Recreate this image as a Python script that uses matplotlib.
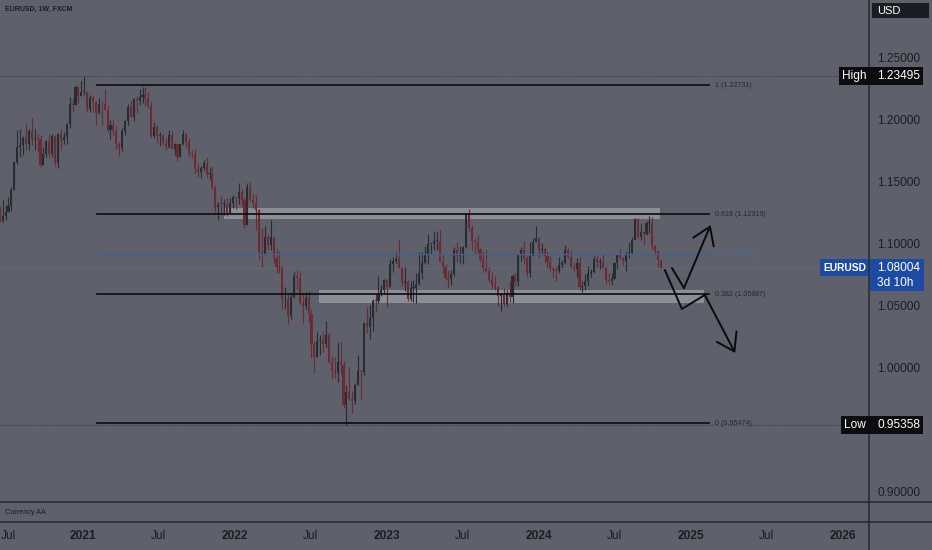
import matplotlib
matplotlib.use("Agg")
import matplotlib.pyplot as plt
import matplotlib.dates as mdates
from matplotlib.patches import Rectangle
from matplotlib.transforms import IdentityTransform, ScaledTranslation
import numpy as np
import pandas as pd

plt.rcParams['font.family'] = ['Liberation Sans', 'DejaVu Sans']

# ---------------- data (EURUSD weekly) ----------------
start_week = '2020-06-01'
first_open = 1.1135
closes = [
    # 2020
    1.1290, 1.1255, 1.1177, 1.1220, 1.1248, 1.1300, 1.1427, 1.1656, 1.1778, 1.1787,
    1.1843, 1.1795, 1.1903, 1.1838, 1.1845, 1.1838, 1.1632, 1.1715, 1.1826, 1.1718,
    1.1860, 1.1646, 1.1876, 1.1834, 1.1857, 1.1962, 1.2122, 1.2112, 1.2255, 1.2186, 1.2215,
    # 2021
    1.2220, 1.2080, 1.2170, 1.2136, 1.2047, 1.2119, 1.2118, 1.2075, 1.1915, 1.1952,
    1.1903, 1.1795, 1.1763, 1.1900, 1.1983, 1.2097, 1.2020, 1.2164, 1.2142, 1.2180,
    1.2193, 1.2168, 1.2107, 1.1865, 1.1936, 1.1864, 1.1875, 1.1806, 1.1771, 1.1870,
    1.1762, 1.1795, 1.1697, 1.1795, 1.1880, 1.1813, 1.1726, 1.1719, 1.1596, 1.1574,
    1.1601, 1.1645, 1.1559, 1.1567, 1.1445, 1.1288, 1.1317, 1.1316, 1.1317, 1.1239,
    1.1322, 1.1370,
    # 2022
    1.1360, 1.1413, 1.1344, 1.1145, 1.1450, 1.1348, 1.1322, 1.1270, 1.0930, 1.0912,
    1.1050, 1.0983, 1.1045, 1.0877, 1.0810, 1.0797, 1.0545, 1.0552, 1.0413, 1.0562,
    1.0733, 1.0720, 1.0518, 1.0495, 1.0554, 1.0430, 1.0185, 1.0083, 1.0213, 1.0220,
    1.0182, 1.0257, 1.0038, 0.9965, 0.9953, 1.0044, 1.0015, 0.9690, 0.9802, 0.9738,
    0.9722, 0.9857, 0.9965, 0.9960, 1.0354, 1.0325, 1.0398, 1.0535, 1.0530, 1.0586,
    1.0620, 1.0705,
    # 2023
    1.0645, 1.0830, 1.0856, 1.0870, 1.0795, 1.0680, 1.0695, 1.0546, 1.0635, 1.0640,
    1.0670, 1.0760, 1.0840, 1.0905, 1.0990, 1.0990, 1.1020, 1.1020, 1.0850, 1.0805,
    1.0720, 1.0710, 1.0750, 1.0940, 1.0895, 1.0910, 1.0970, 1.1230, 1.1125, 1.1015,
    1.1010, 1.0950, 1.0870, 1.0795, 1.0775, 1.0700, 1.0660, 1.0645, 1.0573, 1.0587,
    1.0510, 1.0595, 1.0565, 1.0730, 1.0685, 1.0915, 1.0940, 1.0880, 1.0760, 1.0895,
    1.1010, 1.1040,
    # 2024
    1.0940, 1.0950, 1.0895, 1.0850, 1.0790, 1.0785, 1.0775, 1.0820, 1.0838, 1.0940,
    1.0890, 1.0808, 1.0790, 1.0837, 1.0643, 1.0655, 1.0695, 1.0760, 1.0770, 1.0870,
    1.0847, 1.0850, 1.0800, 1.0700, 1.0693, 1.0713, 1.0840, 1.0908, 1.0880, 1.0857,
    1.0910, 1.0918, 1.1027, 1.1192, 1.1050, 1.1085, 1.1075, 1.1163, 1.1163, 1.0975,
    1.0936, 1.0866, 1.0800,
]
highs = [
    # 2020
    1.1384, 1.1422, 1.1296, 1.1349, 1.1303, 1.1371, 1.1452, 1.1660, 1.1908, 1.1916,
    1.1866, 1.1966, 1.1922, 1.2011, 1.1917, 1.1882, 1.1872, 1.1772, 1.1831, 1.1880,
    1.1880, 1.1870, 1.1891, 1.1920, 1.1892, 1.1965, 1.2177, 1.2166, 1.2273, 1.2250, 1.2310,
    # 2021
    1.2350, 1.2223, 1.2190, 1.2184, 1.2148, 1.2170, 1.2146, 1.2243, 1.2114, 1.1990,
    1.1990, 1.1945, 1.1816, 1.1927, 1.1994, 1.2117, 1.2150, 1.2172, 1.2182, 1.2245,
    1.2262, 1.2255, 1.2218, 1.2145, 1.1975, 1.1955, 1.1895, 1.1880, 1.1850, 1.1909,
    1.1900, 1.1803, 1.1804, 1.1800, 1.1909, 1.1885, 1.1846, 1.1752, 1.1755, 1.1641,
    1.1624, 1.1669, 1.1692, 1.1616, 1.1610, 1.1464, 1.1330, 1.1383, 1.1355, 1.1360,
    1.1361, 1.1386,
    # 2022
    1.1375, 1.1482, 1.1436, 1.1370, 1.1483, 1.1495, 1.1395, 1.1390, 1.1272, 1.1121,
    1.1137, 1.1070, 1.1185, 1.1050, 1.0955, 1.0936, 1.0812, 1.0642, 1.0590, 1.0600,
    1.0765, 1.0787, 1.0774, 1.0601, 1.0605, 1.0615, 1.0464, 1.0210, 1.0279, 1.0258,
    1.0294, 1.0368, 1.0275, 1.0090, 1.0079, 1.0198, 1.0198, 1.0051, 0.9855, 0.9999,
    0.9808, 0.9874, 1.0094, 0.9976, 1.0363, 1.0481, 1.0497, 1.0545, 1.0595, 1.0737,
    1.0658, 1.0713,
    # 2023
    1.0713, 1.0874, 1.0887, 1.0930, 1.1033, 1.0800, 1.0804, 1.0700, 1.0691, 1.0700,
    1.0760, 1.0930, 1.0925, 1.0973, 1.1075, 1.0990, 1.1095, 1.1092, 1.1107, 1.0905,
    1.0830, 1.0780, 1.0786, 1.0970, 1.1012, 1.0976, 1.0975, 1.1245, 1.1276, 1.1149,
    1.1044, 1.1065, 1.0960, 1.0930, 1.0945, 1.0810, 1.0769, 1.0737, 1.0653, 1.0598,
    1.0640, 1.0620, 1.0695, 1.0750, 1.0755, 1.0914, 1.0964, 1.1017, 1.0894, 1.1009,
    1.1040, 1.1140,
    # 2024
    1.1046, 1.0998, 1.0965, 1.0932, 1.0897, 1.0810, 1.0805, 1.0888, 1.0865, 1.0981,
    1.0963, 1.0942, 1.0842, 1.0876, 1.0885, 1.0690, 1.0752, 1.0812, 1.0790, 1.0895,
    1.0895, 1.0880, 1.0915, 1.0810, 1.0761, 1.0760, 1.0845, 1.0910, 1.0948, 1.0890,
    1.0925, 1.1008, 1.1048, 1.1201, 1.1202, 1.1155, 1.1092, 1.1180, 1.1214, 1.1210,
    1.0985, 1.0945, 1.0870,
]
lows = [
    # 2020
    1.1098, 1.1243, 1.1168, 1.1168, 1.1186, 1.1253, 1.1255, 1.1427, 1.1640, 1.1695,
    1.1711, 1.1754, 1.1753, 1.1790, 1.1752, 1.1737, 1.1612, 1.1627, 1.1690, 1.1690,
    1.1690, 1.1622, 1.1603, 1.1746, 1.1800, 1.1801, 1.1926, 1.2059, 1.2115, 1.2130, 1.2186,
    # 2021
    1.2193, 1.2055, 1.2054, 1.2056, 1.1952, 1.2040, 1.1953, 1.2070, 1.1893, 1.1836,
    1.1874, 1.1762, 1.1704, 1.1738, 1.1870, 1.1950, 1.2018, 1.1986, 1.2052, 1.2112,
    1.2133, 1.2105, 1.2092, 1.1847, 1.1848, 1.1807, 1.1783, 1.1794, 1.1752, 1.1770,
    1.1759, 1.1706, 1.1664, 1.1694, 1.1790, 1.1772, 1.1700, 1.1684, 1.1563, 1.1529,
    1.1524, 1.1586, 1.1535, 1.1513, 1.1432, 1.1249, 1.1186, 1.1235, 1.1228, 1.1221,
    1.1266, 1.1279,
    # 2022
    1.1272, 1.1313, 1.1302, 1.1121, 1.1155, 1.1340, 1.1280, 1.1106, 1.0863, 1.0806,
    1.0900, 1.0945, 1.0945, 1.0836, 1.0757, 1.0760, 1.0471, 1.0470, 1.0349, 1.0390,
    1.0560, 1.0627, 1.0506, 1.0358, 1.0470, 1.0366, 1.0072, 0.9952, 1.0079, 1.0097,
    1.0123, 1.0159, 1.0034, 0.9900, 0.9910, 0.9877, 0.9945, 0.9668, 0.9536, 0.9730,
    0.9632, 0.9705, 0.9855, 0.9730, 0.9936, 1.0271, 1.0223, 1.0289, 1.0443, 1.0518,
    1.0575, 1.0598,
    # 2023
    1.0483, 1.0668, 1.0767, 1.0835, 1.0797, 1.0655, 1.0613, 1.0533, 1.0533, 1.0524,
    1.0516, 1.0660, 1.0713, 1.0830, 1.0830, 1.0910, 1.0940, 1.0942, 1.0848, 1.0760,
    1.0700, 1.0635, 1.0665, 1.0730, 1.0844, 1.0835, 1.0833, 1.0960, 1.1093, 1.0943,
    1.0912, 1.0920, 1.0846, 1.0765, 1.0770, 1.0686, 1.0632, 1.0617, 1.0488, 1.0448,
    1.0495, 1.0495, 1.0522, 1.0516, 1.0657, 1.0657, 1.0852, 1.0827, 1.0723, 1.0724,
    1.0895, 1.1005,
    # 2024
    1.0877, 1.0910, 1.0845, 1.0795, 1.0777, 1.0722, 1.0695, 1.0760, 1.0795, 1.0830,
    1.0880, 1.0800, 1.0777, 1.0724, 1.0622, 1.0601, 1.0625, 1.0650, 1.0725, 1.0760,
    1.0805, 1.0788, 1.0795, 1.0668, 1.0670, 1.0665, 1.0710, 1.0790, 1.0875, 1.0825,
    1.0777, 1.0880, 1.0908, 1.1025, 1.1040, 1.1025, 1.0995, 1.1068, 1.1080, 1.0950,
    1.0905, 1.0810, 1.0795,
]

fib_levels = [1.0, 0.618, 0.5, 0.382, 0.0]
fib_prices = [1.22731, 1.12319, 1.09103, 1.05887, 0.95474]
fib_start, fib_end = '2021-02-03', '2025-02-14'

zone_upper = ('2021-12-05', '2024-10-18', 1.1194, 1.1282)
zone_lower = ('2022-07-21', '2025-02-01', 1.0516, 1.0621)

path_up_dates = ['2024-11-16', '2024-12-15', '2025-02-17']
path_up_prices = [1.0798, 1.0637, 1.1145]
path_dn_dates = ['2024-10-30', '2024-12-10', '2025-02-03', '2025-04-17']
path_dn_prices = [1.0782, 1.0468, 1.0581, 1.0113]

high_value, low_value, last_value = 1.23495, 0.95358, 1.08004
price_ticks = [0.90, 1.00, 1.05, 1.10, 1.15, 1.20, 1.25]
time_tick_dates = ['2020-07-01', '2021-01-01', '2021-07-01', '2022-01-01', '2022-07-01',
                   '2023-01-01', '2023-07-01', '2024-01-01', '2024-07-01', '2025-01-01',
                   '2025-07-01', '2026-01-01']
time_tick_labels = ['Jul', '2021', 'Jul', '2022', 'Jul', '2023', 'Jul', '2024', 'Jul',
                    '2025', 'Jul', '2026']

# ---------------- styling ----------------
BG = '#5e606b'
UP = '#262d30'
DOWN = '#6d2a33'
TXT = '#1c1d22'
W, H = 932, 550

fig = plt.figure(figsize=(W / 100, H / 100), dpi=100)
fig.patch.set_facecolor(BG)
ax = fig.add_axes([0, 48 / H, 869 / W, 502 / H])
ax.set_facecolor(BG)
for s in ax.spines.values():
    s.set_visible(False)

d2021 = mdates.date2num(pd.Timestamp('2021-01-01'))
ax.set_xlim(d2021 - 199.4, d2021 + 1888.5)
ax.set_ylim(0.89113, 1.29597)

# candles
c = np.array(closes)
hi = np.array(highs)
lo = np.array(lows)
o = np.concatenate([[first_open], c[:-1]])
hi = np.maximum(hi, np.maximum(o, c))
lo = np.minimum(lo, np.minimum(o, c))
dates = pd.date_range(start_week, periods=len(c), freq='W-MON')
x = mdates.date2num(dates)
cols = np.where(c >= o, UP, DOWN)
ax.vlines(x, lo, hi, colors=cols, lw=0.8, zorder=3)
body_bottom = np.minimum(o, c)
body_h = np.maximum(np.abs(c - o), 0.0007)
ax.bar(x, body_h, bottom=body_bottom, width=5.0, color=cols, lw=0, zorder=4)

# dotted high / low / last-price lines
ax.axhline(high_value, color='#3a3c44', lw=0.8, ls=(0, (1, 1.5)), zorder=2)
ax.axhline(low_value, color='#3a3c44', lw=0.8, ls=(0, (1, 1.5)), zorder=2)
ax.axhline(last_value, color='#70737e', lw=0.8, ls=(0, (1, 1.5)), zorder=1)

# zones
for z in (zone_upper, zone_lower):
    x0 = mdates.date2num(pd.Timestamp(z[0]))
    x1 = mdates.date2num(pd.Timestamp(z[1]))
    ax.add_patch(Rectangle((x0, z[2]), x1 - x0, z[3] - z[2], facecolor='#cdd0d6',
                           alpha=0.42, lw=0, zorder=2))

# fib lines
fx0 = mdates.date2num(pd.Timestamp(fib_start))
fx1 = mdates.date2num(pd.Timestamp(fib_end))
for lvl, p in zip(fib_levels, fib_prices):
    blue = lvl == 0.5
    ax.plot([fx0, fx1], [p, p], color='#44608f' if blue else '#0c0c0e',
            lw=1.0 if blue else 1.2, zorder=5)
    lab = f"{lvl:g} ({p:.5f})"
    ax.text(fx1 + 14, p, lab, fontsize=5.1, va='center', ha='left',
            color='#4f6793' if blue else '#26282e', zorder=6)

# arrows
def draw_path(dts, prs):
    xs = mdates.date2num(pd.to_datetime(dts))
    ax.plot(xs[:-1], prs[:-1], color='#0b0b0d', lw=1.4, zorder=6, solid_capstyle='round')
    ax.annotate('', xy=(xs[-1], prs[-1]), xytext=(xs[-2], prs[-2]),
                arrowprops=dict(arrowstyle='->,head_length=0.6,head_width=0.4',
                                color='#0b0b0d', lw=1.4, shrinkA=0, shrinkB=0,
                                mutation_scale=20), zorder=6)

draw_path(path_up_dates, path_up_prices)
draw_path(path_dn_dates, path_dn_prices)

# axes ticks
ax.yaxis.tick_right()
ax.set_yticks(price_ticks)
ax.set_yticklabels([f"{v:.5f}" for v in price_ticks])
ax.tick_params(axis='y', length=0, pad=6, labelsize=8.6, colors=TXT)
ax.set_xticks(mdates.date2num(pd.to_datetime(time_tick_dates)))
ax.set_xticklabels(time_tick_labels)
ax.tick_params(axis='x', length=0, pad=20.5, labelsize=8.6, colors=TXT)
for i, t in enumerate(ax.get_xticklabels()):
    if t.get_text() != 'Jul':
        t.set_fontweight('bold')
first_lbl = ax.get_xticklabels()[0]
first_lbl.set_horizontalalignment('left')
first_lbl.set_transform(first_lbl.get_transform() + ScaledTranslation(-6 / 100, 0, fig.dpi_scale_trans))

# ---------------- overlays in pixel coords (top-left origin) ----------------
ident = IdentityTransform()

def rect(x0, y0, x1, y1, color):
    fig.add_artist(Rectangle((x0, H - y1), x1 - x0, y1 - y0, transform=ident,
                             facecolor=color, edgecolor='none', zorder=10))

def txt(x0, y0, s, size=8.6, color='white', weight='normal'):
    fig.text(x0 / W, 1 - y0 / H, s, fontsize=size, color=color, weight=weight,
             va='center', ha='left', zorder=11)

def ypix(p):
    return H - ax.transData.transform((0, p))[1]

# separators
fig.add_artist(plt.Line2D([0, 1], [1 - 502 / H, 1 - 502 / H], color='#26282e', lw=1.1, zorder=9))
fig.add_artist(plt.Line2D([0, 1], [1 - 522 / H, 1 - 522 / H], color='#26282e', lw=1.1, zorder=9))
fig.add_artist(plt.Line2D([869 / W, 869 / W], [0, 1], color='#26282e', lw=1.1, zorder=9))

txt(5, 9.5, 'EURUSD, 1W, FXCM', size=5, color=TXT, weight='bold')
txt(5, 512, 'Currency AA', size=5.2, color=TXT)

rect(872, 3, 929, 18, '#1b1d22')
txt(877, 10.5, 'USD', size=8)

yh = ypix(high_value)
rect(839, yh - 9, 923, yh + 9, '#0d0d0f')
txt(842, yh, 'High', size=8.6)
txt(877, yh, f"{high_value:.5f}", size=8.6)

yl = ypix(low_value)
rect(841, yl - 9, 923, yl + 9, '#0d0d0f')
txt(844, yl, 'Low', size=8.6)
txt(877, yl, f"{low_value:.5f}", size=8.6)

yc = ypix(last_value)
rect(820, yc - 9, 868, yc + 8, '#1d4ba3')
rect(870, yc - 9, 924, yc + 23, '#1d4ba3')
txt(823, yc, 'EURUSD', size=7.4, weight='bold')
txt(877, yc, f"{last_value:.5f}", size=8.6)
txt(877, yc + 15, '3d 10h', size=8.6)

fig.savefig('out.png', dpi=100, facecolor=BG)
